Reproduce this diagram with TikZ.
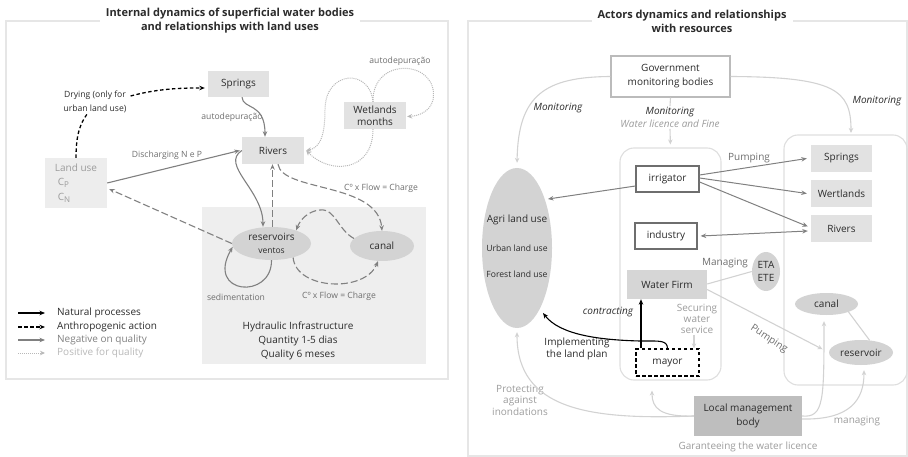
\documentclass[tikz,border=0pt]{standalone}
\usepackage{fontspec}
\setmainfont{Open Sans}
\usetikzlibrary{arrows.meta,shapes.geometric}
\definecolor{boxg}{HTML}{E2E2E2}
\definecolor{landg}{HTML}{EDEDED}
\definecolor{infrag}{HTML}{EEEEEE}
\definecolor{ellg}{HTML}{D3D3D3}
\definecolor{negc}{HTML}{808080}
\definecolor{posc}{HTML}{B8B8B8}
\definecolor{litec}{HTML}{D2D2D2}
\definecolor{framec}{HTML}{E6E6E6}
\definecolor{grpc}{HTML}{DEDEDE}
\definecolor{txtc}{HTML}{2B2B2B}
\definecolor{midc}{HTML}{6E6E6E}
\definecolor{ltxc}{HTML}{9C9C9C}
\definecolor{lmbc}{HTML}{BEBEBE}
\definecolor{wfc}{HTML}{D6D6D6}
\definecolor{govc}{HTML}{BBBBBB}
\tikzset{
  every node/.style={font=\fontsize{10}{12}\selectfont, text=txtc, inner sep=1pt},
  negarr/.style={draw=negc, line width=1.1pt, -{Stealth[length=5.5pt,width=4.5pt]}},
  negdash/.style={negarr, dash pattern=on 7pt off 3pt},
  natarr/.style={draw=black, line width=1.1pt, -{Stealth[length=5.5pt,width=4.5pt]}},
  anthro/.style={draw=black, line width=1.3pt, dash pattern=on 3.5pt off 2.5pt, -{Stealth[length=5.5pt,width=4.5pt]}},
  posarr/.style={draw=posc, line width=1pt, dash pattern=on 1pt off 1pt, -{Stealth[length=5pt,width=4.5pt]}},
  litearr/.style={draw=litec, line width=1.1pt, -{Stealth[length=5pt,width=4.5pt]}},
  liteline/.style={draw=litec, line width=1.1pt},
  lbox/.style={rectangle, fill=boxg, inner sep=0pt, align=center},
  wbox/.style={rectangle, draw=midc, line width=1.2pt, fill=white, inner sep=0pt},
  gell/.style={ellipse, fill=ellg, inner sep=0pt, align=center},
  lab/.style={font=\fontsize{8.6}{11}\selectfont, text=midc},
  rlab/.style={font=\fontsize{10}{12}\selectfont, text=midc},
  llab/.style={font=\fontsize{10}{11.5}\selectfont, text=ltxc, align=center},
  ttl/.style={fill=white, font=\bfseries\fontsize{11}{14}\selectfont, align=center, inner xsep=6pt, inner ysep=0pt},
  grp/.style={draw=grpc, line width=1.1pt, rounded corners=14pt, inner sep=0pt},
}
\begin{document}
\begin{tikzpicture}[x=1pt,y=-1pt]
\useasboundingbox (0,0) rectangle (908,457);
% ================= LEFT PANEL =================
\draw[framec, line width=1.2pt] (6,21) rectangle (448,379);
\node[ttl] (t1) at (230,21) {Internal dynamics of superficial water bodies\\and relationships with land uses};
\fill[infrag] (202,207) rectangle (426,364);

\node[lbox, minimum width=61, minimum height=26] (spr) at (238.5,84) {Springs};
\node[lbox, minimum width=62, minimum height=27] (riv) at (273,150.5) {Rivers};
\node[lbox, minimum width=62, minimum height=27] (wet) at (375,115.5) {Wetlands\\months};
\node[rectangle, fill=landg, minimum width=62, minimum height=50, inner sep=0pt, align=left, text=ltxc,
      font=\fontsize{10}{14.5}\selectfont] (land) at (76,183)
      {Land use\\\hspace*{3pt}C\raisebox{-2pt}{\footnotesize P}\\\hspace*{3pt}C\raisebox{-2pt}{\footnotesize N}};
\node[gell, minimum width=79, minimum height=33, font=\fontsize{10}{13}\selectfont] (res) at (271.5,243.5)
      {reservoirs\\{\fontsize{8.5}{10}\selectfont ventos}};
\node[gell, minimum width=64, minimum height=30] (can) at (382,246) {canal};
\node[align=center, font=\fontsize{10}{14}\selectfont] (hyd) at (298,341) {Hydraulic Infrastructure\\Quantity 1-5 dias\\Quality 6 meses};

% labels
\node[lab] (la1) at (232,117) {autodepuração};
\node[lab] (la2) at (400,61) {autodepuração};
\node[lab] (ldis) at (167,155) {Discharging N e P};
\node[lab] (lc1) at (381,188) {Cº x Flow = Charge};
\node[lab] (lc2) at (339,296) {Cº x Flow = Charge};
\node[lab] (lsed) at (236,297) {sedimentation};
\node[font=\fontsize{8.6}{14}\selectfont, align=center] (dry) at (95,102) {Drying (only for\\urban land use)};

% connectors
\draw[anthro, -] (land.north) .. controls (76,135) and (80,124) .. ([xshift=-8pt]dry.south);
\draw[anthro] ([xshift=3pt,yshift=6pt]dry.east) .. controls (160,88) and (185,88) .. ([xshift=-3pt,yshift=-4pt]spr.west);
\draw[negarr] ([xshift=3.5pt]spr.south) .. controls (243,110) and (265,102) .. ([xshift=-8pt]riv.north);
\draw[negarr] (land.east) -- ([xshift=-2pt]riv.west);
\draw[negdash] (res.west) -- ([xshift=2pt,yshift=-6pt]land.east);
\draw[negarr] (riv.west) .. controls (220,165) and (263,190) .. ([xshift=-8.5pt]res.north);
\draw[negdash] ([xshift=1pt]res.north) -- ([xshift=-0.5pt]riv.south);
\draw[negdash] ([xshift=5pt]riv.south) .. controls (282,192) and (378,182) .. (can.north);
\draw[negdash] (can.165) .. controls (338,230) and (335,208) .. (320,210) .. controls (308,211) and (300,220) .. (res.28);
\draw[negdash] (res.-33) .. controls (296,290) and (365,293) .. ([xshift=-4pt]can.south);
\draw[negarr] (res.south) .. controls (272,300) and (205,295) .. (res.185);
% wetlands dotted
\draw[posarr] ([xshift=-2pt]wet.north) .. controls (372,55) and (440,60) .. (433,100) .. controls (430,112) and (418,116) .. ([xshift=1pt,yshift=-1pt]wet.east);
\draw[posarr] ([xshift=-2pt]wet.north) .. controls (370,68) and (325,70) .. (325,110) .. controls (325,140) and (318,148) .. ([xshift=2pt]riv.east);
\draw[posarr] ([xshift=-2pt]wet.south) .. controls (373,172) and (330,175) .. ([xshift=2pt]riv.east);

% legend
\coordinate (g1a) at (18,313); \coordinate (g1b) at (45,313);
\coordinate (g2a) at (18,327); \coordinate (g2b) at (45,327);
\coordinate (g3a) at (18,340); \coordinate (g3b) at (45,340);
\coordinate (g4a) at (18,353); \coordinate (g4b) at (45,353);
\draw[natarr] (g1a) -- (g1b);
\draw[anthro] (g2a) -- (g2b);
\draw[negarr] (g3a) -- (g3b);
\draw[posarr] (g4a) -- (g4b);
\node[anchor=west] (k1) at (56,313) {Natural processes};
\node[anchor=west] (k2) at (56,327) {Anthropogenic action};
\node[anchor=west, text=negc] (k3) at (56,340) {Negative on quality};
\node[anchor=west, text=posc] (k4) at (56,353) {Positive for quality};

% ================= RIGHT PANEL =================
\draw[framec, line width=1.2pt] (468,21) rectangle (907,456);
\node[ttl] (t2) at (692,21) {Actors dynamics and relationships\\with resources};

\node[grp, minimum width=101, minimum height=232] (actgrp) at (670.5,264) {};
\node[grp, minimum width=123, minimum height=250] (resgrp) at (845.5,260) {};

\node[rectangle, draw=govc, line width=1.2pt, fill=white, minimum width=119, minimum height=41, align=center,
      font=\fontsize{10}{14}\selectfont] (gov) at (670.5,76.5) {Government\\monitoring bodies};
\node[align=center, font=\itshape\fontsize{10}{13}\selectfont] (monlab) at (670,117.5) {Monitoring\\\color{ltxc}Water licence and Fine};
\node[font=\itshape\fontsize{10}{12}\selectfont] (mon1) at (558,108) {Monitoring};
\node[font=\itshape\fontsize{10}{12}\selectfont] (mon2) at (877,101) {Monitoring};

\node[gell, minimum width=70, minimum height=160] (agri) at (517,248) {};
\node (ag1) at (517,220) {Agri land use};
\node[font=\fontsize{8.6}{10}\selectfont] (ag2) at (517,248) {Urban land use};
\node[font=\fontsize{8.6}{10}\selectfont] (ag3) at (517,274) {Forest land use};

\node[wbox, minimum width=63, minimum height=26] (irr) at (667.5,179) {irrigator};
\node[wbox, minimum width=62, minimum height=26] (ind) at (666,236) {industry};
\node[lbox, fill=wfc, minimum width=80, minimum height=29] (wf) at (667,284.5) {Water Firm};
\node[rectangle, draw=black, line width=1.3pt, dash pattern=on 3.5pt off 2.5pt, fill=white, minimum width=63, minimum height=27, inner sep=0pt] (may) at (667.5,362.5) {mayor};
\node[gell, minimum width=28, minimum height=39, font=\fontsize{10}{13}\selectfont] (eta) at (766,271.5) {ETA\\ETE};

\node[lbox, minimum width=61, minimum height=27] (rspr) at (841.5,158.5) {Springs};
\node[lbox, minimum width=61, minimum height=27] (rwet) at (841.5,193.5) {Wertlands};
\node[lbox, minimum width=61, minimum height=27] (rriv) at (841.5,228.5) {Rivers};
\node[gell, minimum width=63, minimum height=22] (rcan) at (826.5,304) {canal};
\node[gell, minimum width=64, minimum height=25] (rrsv) at (861,352.5) {reservoir};

\node[rectangle, fill=lmbc, minimum width=108, minimum height=40, align=center, inner sep=0pt,
      font=\fontsize{10}{14}\selectfont] (lmb) at (748,416) {Local management\\body};

% labels
\node[rlab] (pump1) at (749,158) {Pumping};
\node[rlab] (mang) at (725,263) {Managing};
\node[rlab, rotate=-33] (pump2) at (769,339) {Pumping};
\node[font=\itshape\fontsize{10}{12}\selectfont] (contr) at (608,312) {contracting};
\node[align=center, font=\fontsize{10}{12.5}\selectfont] (impl) at (577,349) {Implementing\\the land plan};
\node[llab, fill=white, font=\fontsize{10}{11}\selectfont] (secl) at (697,319) {Securing\\water\\service};
\node[llab] (prot) at (520,400) {Protecting\\against\\inondations};
\node[llab] (mng2) at (857,421) {managing};
\node[llab] (gar) at (748,447) {Garanteeing the water licence};

% connectors right
\draw[litearr, shorten >=5pt] (gov.west) .. controls (545,77) and (518,95) .. (agri.north);
\draw[litearr, shorten >=1.5pt] (gov.east) .. controls (835,77) and (851,90) .. ([xshift=5.5pt]resgrp.north);
\draw[liteline] (gov.south) -- (monlab.north);
\draw[litearr, shorten >=3pt] (monlab.south) -- (actgrp.north);

\draw[negarr, line width=1pt, shorten >=3pt] ([yshift=-7pt]irr.west) -- (agri.60);
\draw[negarr, line width=1pt] ([yshift=4pt]irr.east) -- ([xshift=-4pt]rspr.west);
\draw[negarr, line width=1pt] ([yshift=1pt]irr.east) -- ([xshift=-4pt]rwet.west);
\draw[negarr, line width=1pt] ([yshift=-3pt]irr.east) -- ([xshift=-3pt,yshift=2pt]rriv.west);
\draw[negarr, line width=1pt, {Stealth[length=5.5pt,width=4.5pt]}-{Stealth[length=5.5pt,width=4.5pt]}] ([xshift=3pt]ind.east) -- ([xshift=-3pt,yshift=-2.5pt]rriv.west);
\draw[liteline] ([yshift=0.5pt]wf.east) -- (eta.west);
\draw[litearr, shorten >=7pt] ([yshift=-5pt]wf.east) -- (rrsv.west);
\draw[litearr] ([xshift=-3pt]secl.south) -- ([xshift=26.5pt]may.north);
\draw[natarr] ([xshift=-26.5pt]may.north) -- ([xshift=-26pt]wf.south);
\draw[natarr] (may.north) .. controls (667,340) and (660,341) .. (640,341) .. controls (600,340) and (560,335) .. (543,313);
\draw[liteline] (rcan.-20) -- (rrsv.55);

\draw[litearr, shorten >=4pt] (lmb.west) .. controls (590,420) and (517,410) .. (agri.south);
\draw[litearr, shorten >=10pt] (lmb.west) .. controls (660,417) and (652,408) .. ([xshift=-18.5pt]actgrp.south);
\draw[litearr, shorten >=6pt] (lmb.east) .. controls (824,418) and (824,400) .. ([xshift=-2.5pt]rcan.south);
\draw[litearr, shorten >=5pt] ([yshift=-3pt]lmb.east) .. controls (850,420) and (864,400) .. ([xshift=3pt]rrsv.south);
\end{tikzpicture}
\end{document}
